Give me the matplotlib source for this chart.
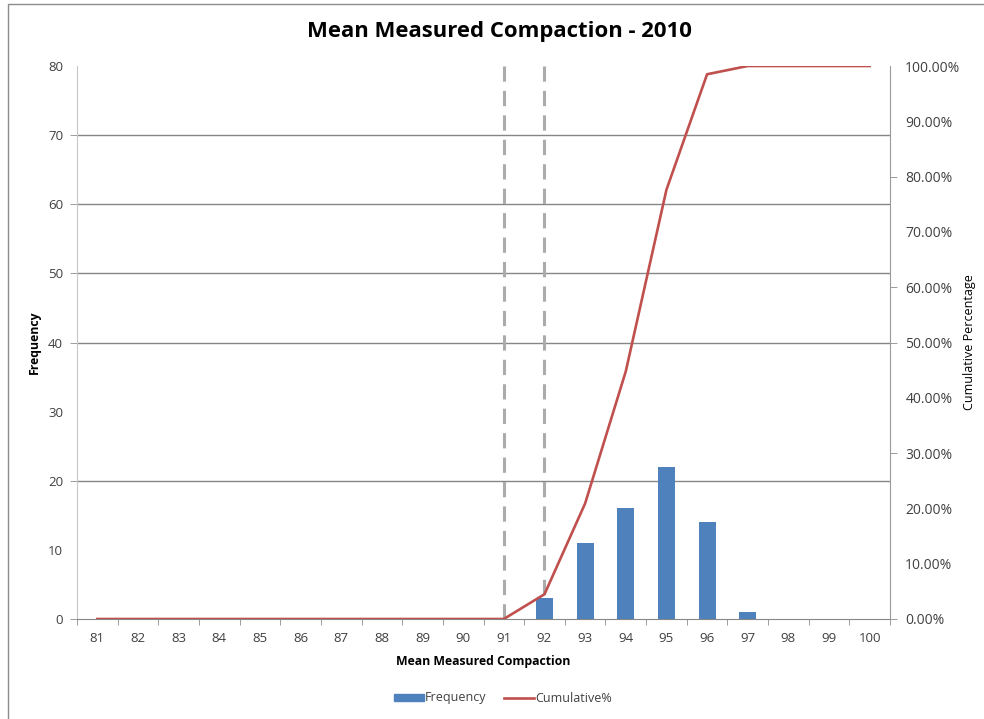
import matplotlib
matplotlib.use("Agg")
import matplotlib.pyplot as plt
from matplotlib.patches import Rectangle
from matplotlib.lines import Line2D
from matplotlib.ticker import FuncFormatter, FixedLocator
import numpy as np

plt.rcParams['font.family'] = ['Open Sans', 'DejaVu Sans']

# Histogram bins and counts
bins = [81, 82, 83, 84, 85, 86, 87, 88, 89, 90, 91, 92, 93, 94, 95, 96, 97, 98, 99, 100]
frequency = [0, 0, 0, 0, 0, 0, 0, 0, 0, 0, 0, 3, 11, 16, 22, 14, 1, 0, 0, 0]
spec_limits = [91, 92]

# axis ticks / gridlines that are drawn
freq_ticks = [0, 10, 20, 30, 40, 50, 60, 70, 80]
freq_grid = [20, 40, 50, 60, 70]
freq_tick_marks = [0, 20, 40, 50, 60, 70]
pct_ticks = [0, 10, 20, 30, 40, 50, 60, 70, 80, 90, 100]
pct_tick_marks = [0, 30, 50, 60, 80]

title = "Mean Measured Compaction - 2010"
x_label = "Mean Measured Compaction"
y_label = "Frequency"
y2_label = "Cumulative Percentage"

cumulative_pct = np.cumsum(frequency) / np.sum(frequency) * 100.0

BAR = "#4F81BD"
LINE = "#C0504D"
TXT = "#404040"
TICK = "#8c8c8c"

fig = plt.figure(figsize=(9.84, 7.19), dpi=100)
fig.patches.append(Rectangle((8 / 984, -0.1), 2.0, 1.1 - 4 / 719,
                             transform=fig.transFigure, fill=False,
                             edgecolor="#8c8c8c", linewidth=1.0))

ax = fig.add_axes([77 / 984, 100 / 719, 813 / 984, 553 / 719])
ax2 = ax.twinx()

x = np.arange(len(bins))
ax.bar(x, frequency, width=0.42, color=BAR, zorder=3, label="Frequency")

ax.set_xlim(-0.5, len(bins) - 0.5)
ax.set_ylim(0, 80)
ax.set_xticks(x)
ax.set_xticklabels([str(b) for b in bins])
ax.xaxis.set_minor_locator(FixedLocator(np.arange(-0.5, len(bins), 1.0)))
ax.tick_params(axis="x", which="major", length=0, pad=9, labelsize=9.5, labelcolor=TXT)
ax.tick_params(axis="x", which="minor", length=4, color=TICK, direction="out")

# left axis: labels on every 10, tick marks only where drawn
ax.yaxis.remove_overlapping_locs = False
ax.set_yticks(freq_ticks)
ax.tick_params(axis="y", which="major", length=0, labelsize=9.5, labelcolor=TXT, pad=10)
ax.yaxis.set_minor_locator(FixedLocator(freq_tick_marks))
ax.tick_params(axis="y", which="minor", length=5, color=TICK)

for v in freq_grid:
    ax.axhline(v, color="#868686", linewidth=1.0, zorder=1)

for s in ["top", "right"]:
    ax.spines[s].set_visible(False)
ax.spines["left"].set_color("#c8c8c8")
ax.spines["bottom"].set_color("#868686")

# specification limits
for lim in spec_limits:
    ax.axvline(bins.index(lim), color="#ababab", linewidth=2.2,
               linestyle=(0, (5, 3)), zorder=2)

ax2.plot(x, cumulative_pct, color=LINE, linewidth=1.9, zorder=4, label="Cumulative%")
ax2.set_ylim(0, 100)
ax2.yaxis.remove_overlapping_locs = False
ax2.set_yticks(pct_ticks)
ax2.yaxis.set_major_formatter(FuncFormatter(lambda v, p: f"{v:.2f}%"))
ax2.tick_params(axis="y", which="major", length=0, labelsize=10, labelcolor=TXT, pad=11)
ax2.yaxis.set_minor_locator(FixedLocator(pct_tick_marks))
ax2.tick_params(axis="y", which="minor", length=5, color=TICK)
for s in ["top", "left", "bottom"]:
    ax2.spines[s].set_visible(False)
ax2.spines["right"].set_color("#9a9a9a")

ax.set_xlabel(x_label, fontsize=8.8, fontweight="bold", color="black")
ax.xaxis.set_label_coords(0.4994, -0.066)
ax.set_ylabel(y_label, fontsize=8.8, fontweight="bold", color="black")
ax.yaxis.set_label_coords(-0.044, 0.5)
ax2.set_ylabel(y2_label, fontsize=9, color="black")
ax2.yaxis.set_label_coords(1.090, 0.5)

fig.text(0.508, 1 - 32 / 719, title, ha="center", va="center",
         fontsize=15.9, fontweight="bold", color="black")

handles = [Rectangle((0, 0), 1, 1, color=BAR),
           Line2D([0], [0], color=LINE, linewidth=1.9)]
fig.legend(handles, ["Frequency", "Cumulative%"], loc="center",
           bbox_to_anchor=(503 / 984, 1 - 698 / 719), ncol=2, frameon=False,
           fontsize=9, handlelength=2.4, handleheight=0.5, handletextpad=0.1,
           columnspacing=1.4, labelcolor=TXT)

fig.savefig("out.png", dpi=100)
